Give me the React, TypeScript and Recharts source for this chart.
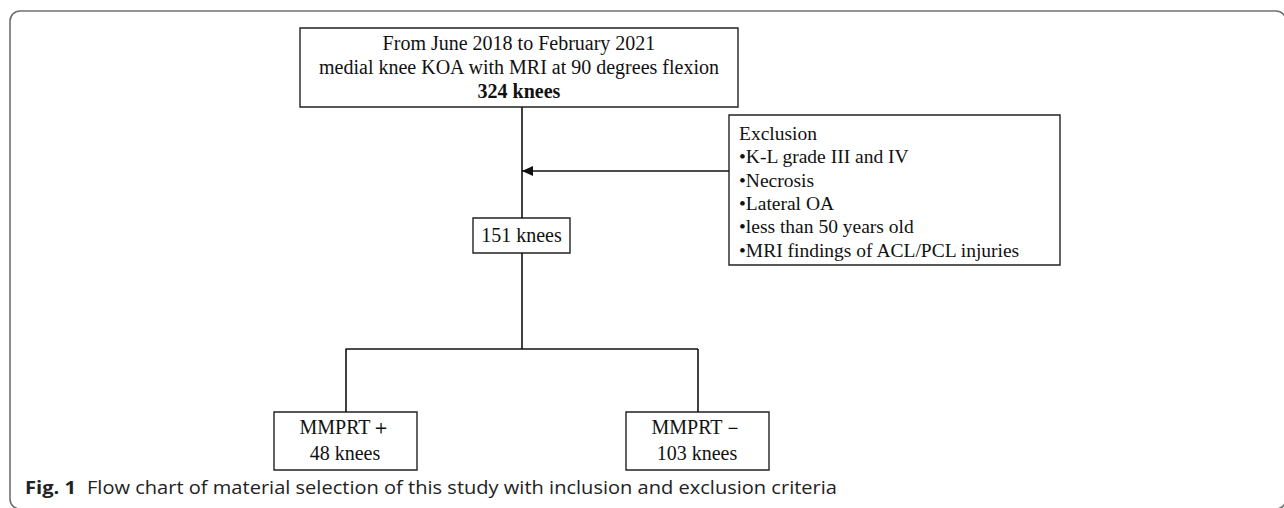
import {
  ScatterChart,
  Scatter,
  XAxis,
  YAxis,
  ReferenceArea,
  ReferenceLine,
} from 'recharts';

// flowchart content
const topLines = [
  'From June 2018 to February 2021',
  'medial knee KOA with MRI at 90 degrees flexion',
  '324 knees',
];
const exclusionLines = [
  'Exclusion',
  '•K-L grade III and IV',
  '•Necrosis',
  '•Lateral OA',
  '•less than 50 years old',
  '•MRI findings of ACL/PCL injuries',
];
const keptLines = ['151 knees'];
const positiveLines = ['MMPRT＋', '48 knees'];
const negativeLines = ['MMPRT－', '103 knees'];
const captionLabel = 'Fig. 1';
const captionText =
  'Flow chart of material selection of this study with inclusion and exclusion criteria';

// layout in pixel space (axes domain = picture size)
const W = 1284;
const H = 508;

const boxLayout = [
  { x1: 300, x2: 738, y1: 28, y2: 107 },
  { x1: 729, x2: 1060, y1: 115, y2: 265 },
  { x1: 473, x2: 570, y1: 218, y2: 253 },
  { x1: 274, x2: 417, y1: 412, y2: 470 },
  { x1: 626, x2: 769, y1: 412, y2: 470 },
];

const textLayout = [
  { lines: topLines, x: 519, y: 43, step: 24, anchor: 'middle', size: 20, bold: [2] },
  { lines: exclusionLines, x: 739, y: 133, step: 23.4, anchor: 'start', size: 19.5, bold: [] },
  { lines: keptLines, x: 521.5, y: 235, step: 0, anchor: 'middle', size: 20, bold: [] },
  { lines: positiveLines, x: 345, y: 427, step: 26, anchor: 'middle', size: 20, bold: [] },
  { lines: negativeLines, x: 697, y: 427, step: 26, anchor: 'middle', size: 20, bold: [] },
];

const connectors = [
  [{ x: 522, y: 107 }, { x: 522, y: 218 }],
  [{ x: 522, y: 253 }, { x: 522, y: 349 }],
  [{ x: 522, y: 171 }, { x: 729, y: 171 }],
  [{ x: 345.5, y: 349 }, { x: 698, y: 349 }],
  [{ x: 346, y: 349 }, { x: 346, y: 412 }],
  [{ x: 698, y: 349 }, { x: 698, y: 412 }],
];

const arrowHeads = [{ x: 522, y: 171 }];

const labels = textLayout.flatMap((t) =>
  t.lines.map((text, i) => ({
    x: t.x,
    y: t.y + i * t.step,
    text,
    anchor: t.anchor,
    size: t.size,
    bold: t.bold.includes(i),
  })),
);

const SERIF = '"Liberation Serif", "Times New Roman", serif';
const SANS = '"Open Sans", "Noto Sans", sans-serif';

const LabelShape = (props: any) => {
  const { cx, cy, payload } = props;
  return (
    <text
      x={cx}
      y={cy}
      dy="0.35em"
      textAnchor={payload.anchor}
      fontFamily={SERIF}
      fontSize={payload.size}
      fontWeight={payload.bold ? 700 : 400}
      fill="#111"
    >
      {payload.text}
    </text>
  );
};

const ArrowShape = (props: any) => {
  const { cx, cy } = props;
  return <path d={`M${cx},${cy} L${cx + 11},${cy - 5} L${cx + 11},${cy + 5} Z`} fill="#111" />;
};

const FrameShape = (props: any) => {
  const { x, y, width, height } = props;
  return (
    <rect
      x={x}
      y={y}
      width={width + 2}
      height={height + 2}
      rx={10}
      ry={10}
      fill="none"
      stroke="#707070"
      strokeWidth={1.6}
    />
  );
};

export default function App() {
  return (
    <div style={{ position: 'absolute', left: 0, top: 0, width: W, height: H, background: '#fff' }}>
      <ScatterChart width={W} height={H} margin={{ top: 0, right: 0, bottom: 0, left: 0 }}>
        <XAxis type="number" dataKey="x" domain={[0, W]} allowDataOverflow hide />
        <YAxis type="number" dataKey="y" domain={[0, H]} allowDataOverflow reversed hide />
        <ReferenceArea x1={10} x2={W} y1={11} y2={H - 1} shape={<FrameShape />} />
        {connectors.map((seg, i) => (
          <ReferenceLine key={`c-${i}`} segment={seg} stroke="#111" strokeWidth={1.6} />
        ))}
        {boxLayout.map((b, i) => (
          <ReferenceArea
            key={`b-${i}`}
            x1={b.x1}
            x2={b.x2}
            y1={b.y1}
            y2={b.y2}
            fill="#fff"
            fillOpacity={1}
            stroke="#222"
            strokeWidth={1.4}
          />
        ))}
        <Scatter data={arrowHeads} shape={<ArrowShape />} isAnimationActive={false} />
        <Scatter data={labels} shape={<LabelShape />} isAnimationActive={false} />
      </ScatterChart>
      <svg
        width={W}
        height={40}
        style={{ position: 'absolute', left: 0, top: 470, pointerEvents: 'none' }}
      >
        <text x={25} y={24} fontFamily={SANS} fontSize={18} fontWeight={700} fill="#222" textLength={51} lengthAdjust="spacingAndGlyphs">
          {captionLabel}
        </text>
        <text x={87} y={24} fontFamily={SANS} fontSize={18} fill="#222" textLength={750} lengthAdjust="spacingAndGlyphs">
          {captionText}
        </text>
      </svg>
    </div>
  );
}
